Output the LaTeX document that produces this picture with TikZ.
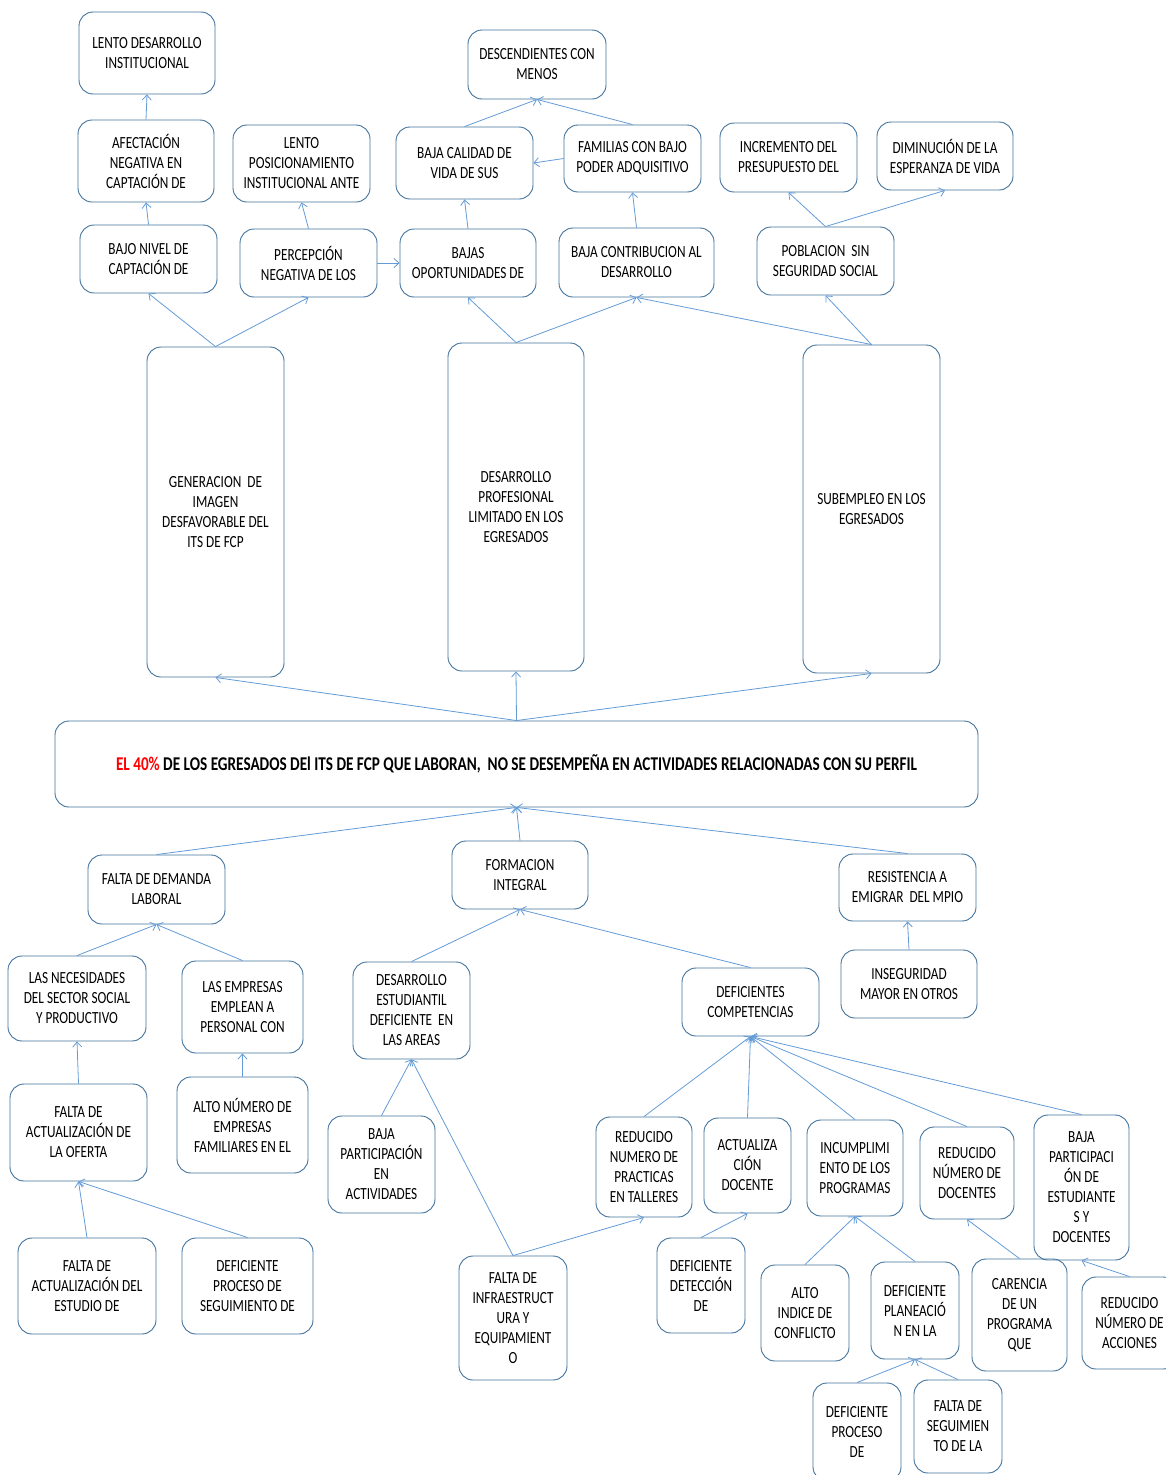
\documentclass[tikz,border=0pt]{standalone}
\usepackage{fontspec}
\setmainfont{Carlito}[FakeStretch=0.78]
\usepackage{xcolor}
\usetikzlibrary{arrows.meta}

\definecolor{boxblue}{RGB}{65,113,156}
\definecolor{linkblue}{RGB}{99,155,215}

\begin{document}
\begin{tikzpicture}[x=1pt,y=-1pt,
    box/.style={draw=boxblue, line width=0.9pt, rounded corners=14pt, align=center, inner sep=0pt,
        font=\fontsize{17}{20}\selectfont},
    link/.style={draw=linkblue, line width=0.8pt, -{Straight Barb[length=5pt,width=9pt]}}]
        \useasboundingbox (0,0) rectangle (1166,1475);
        % efectos
        \node[box, minimum width=136, minimum height=82] (ldi) at (147,53) {LENTO DESARROLLO\\INSTITUCIONAL};
        \node[box, minimum width=136, minimum height=82] (afn) at (146,161) {AFECTACIÓN\\NEGATIVA EN\\CAPTACIÓN DE};
        \node[box, minimum width=137, minimum height=77] (lpi) at (301.5,163.5) {LENTO\\POSICIONAMIENTO\\INSTITUCIONAL ANTE};
        \node[box, minimum width=137, minimum height=68] (bnc) at (148.5,259) {BAJO NIVEL DE\\CAPTACIÓN DE};
        \node[box, minimum width=137, minimum height=68] (pnl) at (308.5,263) {PERCEPCIÓN\\NEGATIVA DE LOS};
        \node[box, minimum width=138, minimum height=69] (dcm) at (537,64.5) {DESCENDIENTES CON\\MENOS};
        \node[box, minimum width=137, minimum height=72] (bcv) at (464.5,163) {BAJA CALIDAD DE\\VIDA DE SUS};
        \node[box, minimum width=137, minimum height=67] (fbp) at (632.5,158.5) {FAMILIAS CON BAJO\\PODER ADQUISITIVO};
        \node[box, minimum width=136, minimum height=68] (bod) at (468,263) {BAJAS\\OPORTUNIDADES DE};
        \node[box, minimum width=155, minimum height=69] (bcd) at (636.5,262.5) {BAJA CONTRIBUCION AL\\DESARROLLO};
        \node[box, minimum width=137, minimum height=69] (ipd) at (788.5,157.5) {INCREMENTO DEL\\PRESUPUESTO DEL};
        \node[box, minimum width=136, minimum height=68] (dev) at (945,156) {DIMINUCIÓN DE LA\\ESPERANZA DE VIDA};
        \node[box, minimum width=137, minimum height=68] (pss) at (825.5,261) {POBLACION\ \ SIN\\SEGURIDAD SOCIAL};
        \node[box, minimum width=137, minimum height=330] (gif) at (215.5,512) {GENERACION\ \ DE\\IMAGEN\\DESFAVORABLE DEL\\ITS DE FCP};
        \node[box, minimum width=136, minimum height=328] (dpl) at (516,507) {DESARROLLO\\PROFESIONAL\\LIMITADO EN LOS\\EGRESADOS};
        \node[box, minimum width=137, minimum height=328] (see) at (871.5,509) {SUBEMPLEO EN LOS\\EGRESADOS};
        % problema central
        \node[box, minimum width=923, minimum height=86, font=\fontsize{19.5}{22}\selectfont\bfseries] (main) at (516.5,764)
            {\textcolor{red}{EL 40\%} DE LOS EGRESADOS DEl ITS DE FCP QUE LABORAN,\ \ NO SE DESEMPEÑA EN ACTIVIDADES RELACIONADAS CON SU PERFIL};
        % causas
        \node[box, minimum width=137, minimum height=69] (fdl) at (156.5,889.5) {FALTA DE DEMANDA\\LABORAL};
        \node[box, minimum width=136, minimum height=68] (fin) at (520,875) {FORMACION\\INTEGRAL};
        \node[box, minimum width=137, minimum height=67] (res) at (907.5,887.5) {RESISTENCIA A\\EMIGRAR\ \ DEL MPIO};
        \node[box, minimum width=136, minimum height=68] (ins) at (909,984) {INSEGURIDAD\\MAYOR EN OTROS};
        \node[box, minimum width=138, minimum height=85] (lns) at (77,998.5) {LAS NECESIDADES\\DEL SECTOR SOCIAL\\Y PRODUCTIVO};
        \node[box, minimum width=121, minimum height=92] (lee) at (242.5,1007) {LAS EMPRESAS\\EMPLEAN A\\PERSONAL CON};
        \node[box, minimum width=117, minimum height=97] (dea) at (411.5,1010.5) {DESARROLLO\\ESTUDIANTIL\\DEFICIENTE\ \ EN\\LAS AREAS};
        \node[box, minimum width=137, minimum height=68] (dco) at (750.5,1002) {DEFICIENTES\\COMPETENCIAS};
        \node[box, minimum width=137, minimum height=97] (fao) at (78.5,1132.5) {FALTA DE\\ACTUALIZACIÓN DE\\LA OFERTA};
        \node[box, minimum width=131, minimum height=96] (ane) at (242.5,1125) {ALTO NÚMERO DE\\EMPRESAS\\FAMILIARES EN EL};
        \node[box, minimum width=107, minimum height=97] (bpa) at (381.5,1164.5) {BAJA\\PARTICIPACIÓN\\EN\\ACTIVIDADES};
        \node[box, minimum width=138, minimum height=96] (fae) at (87,1286) {FALTA DE\\ACTUALIZACIÓN DEL\\ESTUDIO DE};
        \node[box, minimum width=131, minimum height=96] (dps) at (247.5,1286) {DEFICIENTE\\PROCESO DE\\SEGUIMIENTO DE};
        \node[box, minimum width=108, minimum height=124] (fie) at (513,1318) {FALTA DE\\INFRAESTRUCT\\URA Y\\EQUIPAMIENT\\O};
        \node[box, minimum width=96, minimum height=100] (rnp) at (644,1167) {REDUCIDO\\NUMERO DE\\PRACTICAS\\EN TALLERES};
        \node[box, minimum width=87, minimum height=95] (acd) at (747.5,1165.5) {ACTUALIZA\\CIÓN\\DOCENTE};
        \node[box, minimum width=96, minimum height=96] (inc) at (855,1168) {INCUMPLIMI\\ENTO DE LOS\\PROGRAMAS};
        \node[box, minimum width=94, minimum height=92] (rnd) at (967,1173) {REDUCIDO\\NÚMERO DE\\DOCENTES};
        \node[box, minimum width=95, minimum height=145] (bpe) at (1081.5,1187.5) {BAJA\\PARTICIPACI\\ÓN DE\\ESTUDIANTE\\S Y\\DOCENTES};
        \node[box, minimum width=88, minimum height=95] (ddd) at (701,1285.5) {DEFICIENTE\\DETECCIÓN\\DE};
        \node[box, minimum width=88, minimum height=96] (aic) at (805,1313) {ALTO\\INDICE DE\\CONFLICTO};
        \node[box, minimum width=88, minimum height=97] (dpn) at (915,1310.5) {DEFICIENTE\\PLANEACIÓ\\N EN LA};
        \node[box, minimum width=95, minimum height=112] (cpq) at (1019.5,1315) {CARENCIA\\DE UN\\PROGRAMA\\QUE};
        \node[box, minimum width=95, minimum height=92] (rna) at (1129.5,1323) {REDUCIDO\\NÚMERO DE\\ACCIONES};
        \node[box, minimum width=88, minimum height=98] (dpp) at (857,1432) {DEFICIENTE\\PROCESO\\DE};
        \node[box, minimum width=88, minimum height=93] (fsl) at (958,1426.5) {FALTA DE\\SEGUIMIEN\\TO DE LA};

        % flechas efectos
        \draw[link] (afn.north) -- (ldi.south);
        \draw[link] (bnc.north) -- (afn.south);
        \draw[link] (pnl.north) -- (lpi.south);
        \draw[link] (pnl.east) -- (bod.west);
        \draw[link] (bod.north) -- (bcv.south);
        \draw[link] (fbp.west) -- (bcv.east);
        \draw[link] (bcv.north) -- (dcm.south);
        \draw[link] (fbp.north) -- (dcm.south);
        \draw[link] (bcd.north) -- (fbp.south);
        \draw[link] (pss.north) -- (ipd.south);
        \draw[link] (pss.north) -- (dev.south);
        \draw[link] (gif.north) -- (bnc.south);
        \draw[link] (gif.north) -- (pnl.south);
        \draw[link] (dpl.north) -- (bod.south);
        \draw[link] (dpl.north) -- (bcd.south);
        \draw[link] (see.north) -- (bcd.south);
        \draw[link] (see.north) -- (pss.south);
        \draw[link] (main.north) -- (gif.south);
        \draw[link] (main.north) -- (dpl.south);
        \draw[link] (main.north) -- (see.south);
        % flechas causas
        \draw[link] (fdl.north) -- (main.south);
        \draw[link] (fin.north) -- (main.south);
        \draw[link] (res.north) -- (main.south);
        \draw[link] (lns.north) -- (fdl.south);
        \draw[link] (lee.north) -- (fdl.south);
        \draw[link] (dea.north) -- (fin.south);
        \draw[link] (dco.north) -- (fin.south);
        \draw[link] (ins.north) -- (res.south);
        \draw[link] (fao.north) -- (lns.south);
        \draw[link] (ane.north) -- (lee.south);
        \draw[link] (fae.north) -- (fao.south);
        \draw[link] (dps.north) -- (fao.south);
        \draw[link] (bpa.north) -- (dea.south);
        \draw[link] (fie.north) -- (dea.south);
        \draw[link] (fie.north) -- (rnp.south);
        \draw[link] (rnp.north) -- (dco.south);
        \draw[link] (acd.north) -- (dco.south);
        \draw[link] (inc.north) -- (dco.south);
        \draw[link] (rnd.north) -- (dco.south);
        \draw[link] (bpe.north) -- (dco.south);
        \draw[link] (ddd.north) -- (acd.south);
        \draw[link] (aic.north) -- (inc.south);
        \draw[link] (dpn.north) -- (inc.south);
        \draw[link] (cpq.north) -- (rnd.south);
        \draw[link] (rna.north) -- (bpe.south);
        \draw[link] (dpp.north) -- (dpn.south);
        \draw[link] (fsl.north) -- (dpn.south);
\end{tikzpicture}
\end{document}
